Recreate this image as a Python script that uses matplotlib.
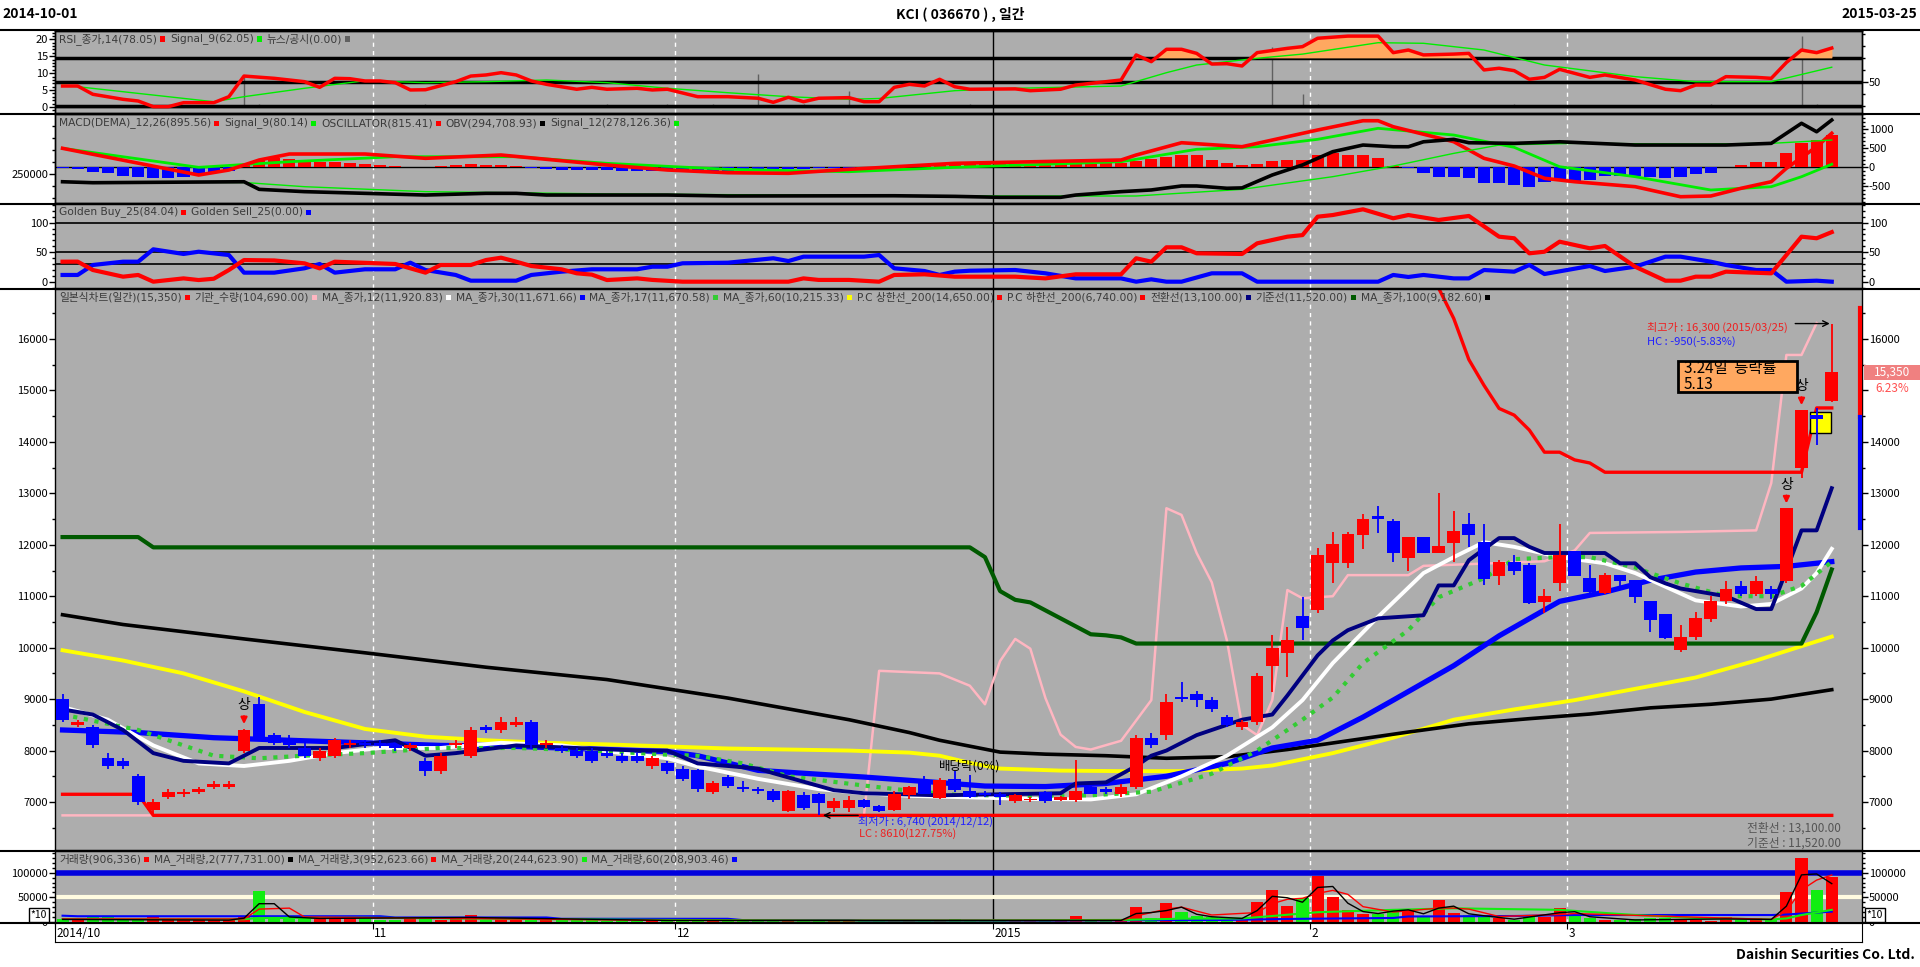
import matplotlib
matplotlib.use('Agg')
import matplotlib.pyplot as plt
import matplotlib.transforms as mtransforms
from matplotlib.patches import Rectangle
from matplotlib.lines import Line2D
from matplotlib.ticker import MultipleLocator, FixedLocator
import numpy as np

plt.rcParams['font.family'] = ['Noto Sans CJK KR', 'DejaVu Sans']
plt.rcParams['axes.unicode_minus'] = False

# ---------------- data ----------------
month_labels = ['2014/10', '11', '12', '2015', '2', '3']
month_start = [0, 21, 41, 62, 83, 100]

opens = [9000, 8500, 8450, 7850, 7800, 7500, 6850, 7100, 7150, 7200, 7300, 7300, 8000, 8900, 8300, 8250, 8050, 7850, 7900, 8100, 8150,
         8150, 8100, 8050, 7800, 7600, 8100, 7900, 8450, 8400, 8500, 8550, 8100, 8050, 8000, 8000, 7950, 7900, 7900, 7700, 7750,
         7650, 7620, 7190, 7480, 7270, 7240, 7210, 6820, 7130, 7150, 6880, 6880, 7030, 6920, 6850, 7130, 7420, 7080, 7450, 7210, 7180,
         7150, 7020, 7030, 7190, 7030, 7030, 7290, 7250, 7150, 7300, 8250, 8300, 9050, 9100, 8990, 8650, 8450, 8550, 9650, 9900, 10610,
         10730, 11650, 11650, 12190, 12560, 12460, 11750, 12150, 11840, 12040, 12400, 12060, 11400, 11660, 11600, 10890, 11250,
         11870, 11350, 11070, 11410, 11310, 10900, 10650, 9950, 10200, 10550, 10900, 11200, 11050, 11150, 11300, 13500, 14520, 14800]
highs = [9100, 8600, 8500, 7950, 7850, 7550, 7050, 7250, 7250, 7300, 7400, 7400, 8420, 9050, 8350, 8300, 8150, 8050, 8250, 8200, 8200,
         8200, 8150, 8150, 7850, 7950, 8200, 8450, 8500, 8650, 8650, 8600, 8200, 8100, 8050, 8050, 8000, 7950, 7950, 7900, 7800,
         7700, 7650, 7400, 7520, 7400, 7300, 7260, 7230, 7200, 7180, 7080, 7120, 7060, 6950, 7220, 7320, 7500, 7460, 7600, 7520, 7220,
         7200, 7150, 7100, 7220, 7120, 7810, 7320, 7300, 7350, 8300, 8350, 9100, 9330, 9150, 9050, 8700, 8600, 9500, 10250, 10400, 10990,
         11930, 12250, 12250, 12600, 12750, 12510, 12150, 12160, 13000, 12650, 12610, 12400, 11700, 11800, 11650, 11150, 12400,
         11880, 11600, 11450, 11420, 11320, 10910, 10660, 10450, 10700, 11000, 11300, 11300, 11400, 11200, 12710, 14620, 14660, 16300]
lows = [8550, 8450, 8050, 7650, 7650, 6950, 6740, 7050, 7100, 7150, 7250, 7250, 7950, 8200, 8100, 8050, 7850, 7800, 7850, 8050, 8050,
        8050, 8000, 8000, 7500, 7550, 8050, 7850, 8350, 8350, 8450, 8050, 8050, 7950, 7850, 7750, 7850, 7750, 7750, 7650, 7550,
        7400, 7200, 7150, 7280, 7200, 7150, 7000, 6800, 6850, 6740, 6800, 6800, 6880, 6800, 6820, 7050, 7150, 7050, 7200, 7080, 7100,
        6950, 6990, 7000, 6990, 7010, 7000, 7150, 7150, 7100, 7250, 8050, 8200, 8950, 8850, 8750, 8450, 8400, 8500, 9140, 9430, 10140,
        10670, 11260, 11550, 11920, 12220, 11670, 11500, 11840, 11840, 11670, 11960, 11210, 11210, 11410, 10850, 10670, 11100,
        11390, 11050, 11050, 11200, 10860, 10300, 10170, 9920, 10150, 10500, 10850, 11000, 11000, 10950, 11250, 13300, 13930, 14770]
closes = [8600, 8550, 8100, 7700, 7700, 7000, 7000, 7200, 7200, 7250, 7350, 7350, 8400, 8250, 8150, 8100, 7900, 8000, 8200, 8150, 8100,
          8100, 8050, 8100, 7600, 7900, 8150, 8400, 8400, 8550, 8550, 8100, 8150, 8000, 7900, 7800, 7900, 7800, 7800, 7850, 7600,
          7450, 7250, 7360, 7310, 7250, 7220, 7030, 7210, 6880, 6990, 7010, 7030, 6910, 6820, 7150, 7290, 7160, 7430, 7230, 7100, 7130,
          7100, 7130, 7040, 7010, 7100, 7210, 7160, 7200, 7300, 8250, 8100, 8950, 9000, 8990, 8800, 8500, 8550, 9440, 10000, 10150, 10390,
          11800, 12010, 12200, 12500, 12500, 11840, 12150, 11840, 11980, 12270, 12190, 11330, 11660, 11490, 10860, 11000, 11800,
          11400, 11090, 11410, 11290, 10990, 10530, 10180, 10200, 10570, 10900, 11150, 11050, 11300, 11050, 12710, 14620, 14450, 15350]
volume = [6300, 3600, 9000, 9000, 5600, 5600, 9000, 8400, 8400, 3600, 3600, 3600, 11700, 62600, 11700, 9000, 8400, 6300, 12000, 7000, 5600,
          4000, 3600, 5000, 6000, 4500, 5000, 13700, 3600, 9000, 3600, 8000, 3600, 4500, 3600, 3000, 2500, 3600, 3000, 3600, 3000,
          3000, 2500, 3000, 2500, 2000, 2000, 3000, 4000, 3000, 3500, 2500, 2500, 2000, 2000, 3500, 3000, 2500, 4000, 5000, 3000, 2000,
          2500, 2500, 2000, 2500, 2500, 11000, 3000, 2500, 3000, 30700, 8000, 38800, 20500, 11000, 10000, 6800, 6800, 40100, 64600, 33000, 48000,
          93000, 51000, 25000, 17000, 17000, 27000, 22000, 11000, 45000, 19000, 14000, 11000, 7000, 4000, 10000, 10000, 27400,
          14000, 7000, 4000, 3000, 5000, 7000, 7000, 4000, 3000, 1500, 10000, 4000, 7000, 3000, 61000, 130200, 64900, 90600]
upper_limit_days = [12, 114, 115]

# main panel lines (day index, price)
ma12_x = [0, 3, 6, 9, 12, 15, 18, 21, 25, 29, 33, 37, 40, 42, 46, 50, 53, 56, 60, 64, 68, 71, 74, 77, 80, 82, 84, 87, 90, 92, 94, 96, 99, 102, 104, 108, 111, 113, 115, 116, 117]
ma12_y = [8850, 8600, 8100, 7750, 7700, 7800, 7950, 8050, 8050, 8150, 8100, 7950, 7850, 7690, 7450, 7250, 7170, 7120, 7090, 7060, 7050, 7150, 7500, 7900, 8450, 8980, 9700, 10600, 11450, 11760, 12050, 11960, 11760, 11640, 11450, 10920, 10800, 10850, 11150, 11450, 11921]
ma17_x = [0, 5, 10, 13, 16, 20, 25, 30, 35, 40, 42, 45, 48, 53, 56, 59, 64, 68, 72, 76, 79, 82, 84, 86, 89, 91, 94, 96, 99, 101, 104, 105, 107, 110, 113, 115, 117]
ma17_y = [8700, 8400, 7900, 7850, 7900, 7950, 8050, 8050, 8000, 7920, 7900, 7750, 7500, 7320, 7220, 7140, 7120, 7130, 7200, 7550, 8000, 8600, 9030, 9700, 10340, 10980, 11350, 11720, 11760, 11760, 11560, 11450, 11250, 11000, 11000, 11200, 11670]
ma30_x = [0, 5, 10, 15, 20, 25, 30, 35, 40, 42, 46, 50, 53, 57, 61, 65, 69, 73, 77, 80, 83, 86, 88, 92, 95, 99, 102, 105, 108, 111, 114, 117]
ma30_y = [8400, 8350, 8250, 8200, 8150, 8100, 8080, 8030, 7980, 7900, 7615, 7540, 7485, 7400, 7310, 7300, 7360, 7500, 7750, 8050, 8200, 8650, 8980, 9650, 10230, 10900, 11080, 11310, 11470, 11550, 11580, 11672]
ma60_x = [0, 4, 8, 12, 16, 20, 24, 28, 32, 36, 40, 44, 48, 52, 56, 58, 60, 62, 66, 70, 74, 78, 80, 84, 88, 92, 96, 100, 104, 108, 112, 117]
ma60_y = [9950, 9750, 9500, 9150, 8750, 8420, 8270, 8200, 8150, 8120, 8080, 8040, 8020, 8000, 7960, 7900, 7760, 7650, 7610, 7600, 7600, 7650, 7710, 7950, 8250, 8600, 8800, 8980, 9200, 9420, 9750, 10215]
ma100_x = [0, 4, 12, 20, 28, 36, 44, 52, 56, 58, 62, 65, 69, 73, 77, 81, 85, 89, 93, 97, 101, 105, 109, 113, 117]
ma100_y = [10640, 10450, 10170, 9900, 9620, 9380, 9020, 8600, 8350, 8200, 7970, 7930, 7900, 7850, 7880, 8020, 8190, 8360, 8520, 8620, 8710, 8830, 8900, 9000, 9183]
kijun_x = [0, 5, 6, 60, 61, 62, 63, 64, 66, 68, 69, 70, 71, 115, 116, 117]
kijun_y = [12150, 12150, 11950, 11950, 11760, 11100, 10930, 10880, 10570, 10260, 10240, 10200, 10080, 10080, 10690, 11520]
tenkan_x = [0, 2, 4, 6, 8, 11, 12, 13, 18, 22, 24, 26, 30, 34, 38, 40, 42, 46, 47, 51, 53, 58, 66, 67, 69, 71, 72, 73, 75, 78, 80, 81, 83, 84, 85, 87, 90, 91, 92, 93, 95, 96, 97, 98, 102, 103, 104, 105, 106, 107, 110, 112, 113, 114, 115, 116, 117]
tenkan_y = [8800, 8700, 8400, 7950, 7800, 7750, 7900, 8050, 8050, 8200, 7900, 7950, 8100, 8050, 8000, 8000, 7750, 7650, 7560, 7230, 7170, 7130, 7170, 7360, 7380, 7700, 7900, 8000, 8300, 8600, 8700, 9070, 9850, 10140, 10340, 10570, 10630, 11210, 11210, 11700, 12130, 12130, 11960, 11840, 11840, 11640, 11640, 11370, 11250, 11150, 11000, 10750, 10750, 11500, 12280, 12280, 13100]
pc_up_x = [90, 91, 92, 93, 94, 95, 96, 97, 98, 99, 100, 101, 102, 115, 116, 117]
pc_up_y = [16990, 16990, 16400, 15600, 15100, 14650, 14520, 14230, 13800, 13800, 13650, 13590, 13410, 13410, 14660, 14660]
pc_dn_x = [0, 5, 6, 117]
pc_dn_y = [7150, 7150, 6740, 6740]
inst_x = [0, 53, 54, 58, 60, 61, 62, 63, 64, 65, 66, 67, 68, 70, 72, 73, 74, 75, 76, 77, 78, 79, 80, 81, 82, 84, 85, 89, 90, 98, 100, 101, 107, 112, 113, 114, 115, 116]
inst_y = [6740, 6740, 9550, 9500, 9260, 8900, 9740, 10170, 9980, 9020, 8310, 8070, 8020, 8190, 8980, 12710, 12580, 11840, 11270, 10140, 8500, 8300, 8980, 11120, 10960, 11000, 11410, 11410, 11590, 11680, 11890, 12230, 12250, 12280, 13200, 15690, 15690, 16310]

# RSI panel
rsi_x = [0, 1, 2, 4, 5, 6, 7, 8, 10, 11, 12, 14, 16, 17, 18, 19, 20, 21, 22, 23, 24, 26, 27, 28, 29, 30, 31, 32, 34, 35, 36, 38, 39, 40, 42, 44, 46, 47, 48, 49, 50, 52, 53, 54, 55, 56, 57, 58, 59, 60, 63, 64, 66, 67, 70, 71, 72, 73, 74, 75, 76, 77, 78, 79, 81, 82, 83, 85, 87, 88, 89, 90, 92, 93, 94, 95, 96, 97, 98, 99, 101, 102, 104, 106, 107, 108, 109, 110, 112, 113, 114, 115, 116, 117]
rsi_y = [46.4, 46.4, 39.5, 35.3, 33.9, 29.2, 29.2, 32.5, 32.5, 37.5, 54.7, 52.8, 50, 45.3, 52.8, 52.5, 50.6, 50.6, 49.2, 43.1, 43.3, 50, 54.7, 55.6, 57.5, 55.6, 50.6, 47.8, 43.7, 45.3, 43.7, 44.5, 43.1, 43.7, 37.5, 37.5, 36.2, 32.8, 37, 33.3, 36.2, 36.7, 33.3, 33.3, 45.3, 47.8, 46.4, 52, 45.8, 43.7, 44, 42.5, 43.7, 47.2, 51.4, 72.3, 66.7, 77, 77, 73.6, 64.7, 65, 63.1, 74.2, 77.8, 79.2, 86.2, 88, 88, 74.2, 76.4, 72.3, 73, 73.6, 59.8, 61.2, 59.2, 52, 53.6, 60.3, 53.6, 55.6, 51.4, 43.7, 42.5, 47.2, 47.2, 54.2, 53.6, 52.8, 66, 76.4, 74.2, 78.05]
rsi_sig_x = [0, 10, 12, 16, 20, 24, 28, 32, 36, 40, 44, 48, 52, 54, 59, 63, 70, 73, 75, 79, 82, 87, 90, 94, 98, 104, 108, 113, 117]
rsi_sig_y = [47.2, 33.3, 37.5, 44.5, 50.8, 49.2, 50, 51.4, 49.2, 44.5, 40.8, 37.5, 35.3, 36, 42.5, 44.5, 46.4, 57.5, 63.9, 69.5, 73, 82.5, 82, 76.4, 63.9, 54.2, 50, 50, 62.05]
news_x = [12, 13, 24, 36, 40, 43, 46, 49, 52, 60, 80, 82, 83, 96, 109, 115, 116]
news_y = [9.1, 0.9, 0.9, 0.9, 0.9, 0.9, 9.7, 0.9, 4.8, 0.9, 17.6, 3.7, 0.9, 0.9, 0.9, 20.9, 0.9]

# MACD panel
macd_x = [0, 9, 11, 13, 15, 20, 24, 29, 32, 36, 40, 44, 48, 52, 59, 70, 71, 74, 78, 80, 83, 86, 87, 88, 92, 94, 96, 98, 100, 104, 107, 109, 111, 113, 114, 116, 117]
macd_y = [500, -203, -71, 192, 350, 350, 237, 324, 211, 61, -71, -142, -158, -53, 105, 192, 324, 647, 542, 718, 982, 1226, 1226, 1068, 674, 237, 34, -289, -379, -510, -774, -755, -553, -379, -26, 542, 895.56]
macd_sig_x = [0, 9, 15, 22, 30, 36, 44, 52, 59, 70, 75, 79, 83, 87, 92, 96, 99, 104, 109, 113, 115, 117]
macd_sig_y = [500, 0, 147, 279, 279, 105, -53, -116, 0, 147, 474, 542, 737, 1026, 850, 526, 16, -247, -597, -510, -247, 80.14]
osc = [-30, -53, -114, -158, -228, -246, -289, -289, -246, -202, -158, -96,
       60, 193, 254, 210, 193, 149, 149, 105, 88, 61, 35, 20, 10, 30, 50, 80, 70, 50, 30,
       -20, -40, -60, -70, -80, -80, -90, -90, -90, -90, -100, -100, -90, -90, -80, -70, -60, -50, -40, -30, -20, -10,
       10, 20, 30, 40, 50, 60, 70, 80, 90, 100, 90, 80, 80, 90, 100, 100, 105, 120,
       175, 210, 281, 325, 316, 193, 123, 61, 88, 175, 193, 193, 325, 368, 325, 325, 237, 35, -20, -158,
       -246, -246, -289, -403, -403, -465, -509, -377, -333, -351, -333, -228, -228, -228, -263,
       -289, -246, -184, -140, 0, 61, 149, 149, 368, 631, 719, 851]
obv_x = [0, 2, 12, 13, 16, 24, 28, 30, 32, 40, 44, 55, 59, 62, 66, 67, 70, 72, 74, 75, 77, 78, 80, 82, 84, 86, 88, 89, 90, 92, 93, 96, 99, 104, 110, 113, 115, 116, 117]
obv_y = [243600, 242800, 243600, 237300, 235400, 232600, 234000, 234000, 232600, 232600, 231800, 232000, 231500, 230700, 230700, 232600, 235400, 236800, 240100, 240100, 238200, 238500, 249200, 257500, 268500, 274000, 272600, 272600, 276700, 278700, 275900, 275400, 276700, 274000, 274000, 275400, 292000, 285000, 294709]
obv_sig_x = [0, 12, 16, 24, 36, 59, 71, 78, 84, 88, 92, 95, 100, 108, 113, 117]
obv_sig_y = [243600, 243000, 239500, 235400, 233500, 231800, 231800, 237300, 247800, 256600, 267100, 274000, 275400, 274800, 275400, 278126]

# Golden panel
gbuy_x = [0, 1, 2, 4, 5, 6, 8, 9, 10, 11, 12, 14, 16, 17, 18, 21, 22, 24, 25, 27, 28, 29, 30, 31, 33, 34, 35, 36, 38, 39, 41, 48, 49, 50, 52, 54, 55, 57, 59, 63, 65, 67, 70, 71, 72, 73, 74, 75, 78, 79, 81, 82, 83, 84, 86, 88, 89, 91, 93, 95, 96, 97, 98, 99, 101, 102, 104, 106, 107, 108, 109, 110, 113, 115, 116, 117]
gbuy_y = [33.9, 34, 19.8, 8.5, 11.4, 0, 5.6, 2.8, 5, 19.8, 36.7, 36, 31.1, 22.6, 33.9, 31, 30, 15.3, 28.3, 28.3, 36.7, 40.7, 33.9, 26.6, 21, 14.2, 12, 2.8, 5.6, 3, 0, 0, 5.6, 3, 3, 0, 11.4, 12.5, 8.5, 8.5, 5.6, 12.5, 12.5, 39.7, 33.9, 58.3, 58.3, 48.1, 47, 65, 76.3, 79, 110.2, 113, 122.7, 107.5, 113, 104.6, 111.4, 76.3, 73.6, 48.1, 50.8, 67.8, 56.6, 60.5, 25.4, 1.7, 1.7, 8.5, 8.5, 17, 14.2, 76.3, 73.6, 84.04]
gsell_x = [0, 1, 2, 4, 5, 6, 8, 9, 11, 12, 14, 16, 17, 18, 20, 22, 23, 24, 26, 27, 30, 31, 33, 35, 38, 39, 40, 41, 44, 47, 48, 49, 53, 54, 55, 57, 58, 59, 60, 63, 65, 67, 70, 71, 72, 73, 74, 76, 78, 79, 87, 88, 89, 90, 92, 93, 94, 96, 97, 98, 101, 102, 104, 106, 107, 109, 110, 112, 113, 114, 116, 117]
gsell_y = [11.4, 11.4, 28.3, 33.9, 33.9, 54.9, 47, 50.8, 45.2, 15.3, 15.3, 22.7, 30, 15.3, 21, 21, 32.2, 19.8, 11.4, 1.7, 1.7, 11.4, 17, 21, 21, 25.4, 25.4, 31.2, 32.2, 39.7, 35, 42.4, 42.4, 45.2, 22.7, 18.1, 11.4, 17, 18.6, 19.8, 14.2, 5.6, 5.6, 0, 4, 0, 0, 14.2, 14.2, 0, 0, 11.4, 8, 11.4, 5.6, 5.6, 19.8, 17, 28.3, 13, 26.6, 18.1, 25.4, 42.4, 42.4, 33.9, 28.3, 19.8, 19.8, 0, 1.7, 0]

# volume moving averages
vma2_x = [0, 11, 12, 13, 14, 15, 17, 27, 28, 40, 70, 71, 72, 73, 74, 75, 76, 78, 79, 80, 81, 82, 83, 84, 85, 86, 87, 88, 89, 90, 91, 92, 93, 94, 96, 99, 100, 101, 104, 110, 113, 114, 115, 116, 117]
vma2_y = [5000, 3600, 7600, 37000, 37000, 10000, 7000, 9000, 8500, 3000, 3000, 17000, 19000, 23000, 30000, 15500, 10500, 7000, 23000, 52000, 49000, 40000, 70000, 72000, 38000, 21000, 17000, 22000, 24500, 16500, 28000, 32000, 16500, 12500, 5500, 18700, 20700, 10500, 4000, 6000, 5000, 32000, 95600, 97500, 77773]
vma3_x = [0, 12, 13, 15, 16, 40, 70, 71, 73, 74, 76, 79, 80, 81, 82, 83, 84, 85, 86, 88, 91, 92, 93, 95, 99, 100, 113, 114, 115, 116, 117]
vma3_y = [6000, 6000, 26000, 28000, 10000, 3000, 3000, 12000, 26000, 30000, 14000, 19000, 37000, 46000, 48000, 58000, 64000, 56000, 31000, 20000, 28000, 28000, 26000, 11000, 15000, 17000, 5000, 22000, 65000, 85000, 95262]
vma20_x = [0, 12, 13, 20, 30, 40, 50, 60, 70, 74, 78, 80, 83, 88, 92, 99, 104, 108, 113, 114, 115, 117]
vma20_y = [6000, 5500, 8000, 8500, 6000, 4000, 3000, 3000, 4000, 6500, 7000, 12000, 19700, 24500, 27600, 24500, 14000, 8000, 5000, 7000, 14000, 24462]
vma60_x = [0, 1, 21, 22, 32, 33, 44, 45, 52, 53, 66, 67, 77, 81, 88, 89, 96, 100, 113, 114, 117]
vma60_y = [12600, 11500, 11500, 9000, 9000, 6300, 6300, 3600, 3600, 2500, 2500, 3000, 4000, 6000, 8000, 11000, 12000, 14000, 14000, 15000, 20890]

# ---------------- layout ----------------
W, H = 1920, 967
fig = plt.figure(figsize=(W / 100, H / 100), dpi=100)
fig.patch.set_facecolor('white')
BG = '#adadad'
XL = (-0.5, 119.0)
n = len(closes)
idx = np.arange(n)
o, h, l, c = map(np.array, (opens, highs, lows, closes))
up = c >= o


def pbox(x0, y0, x1, y1):
    return [x0 / W, 1 - y1 / H, (x1 - x0) / W, (y1 - y0) / H]


def style(ax, bg=True):
    if bg:
        ax.set_facecolor(BG)
    ax.set_xlim(*XL)
    ax.set_xticks([])
    for s in ax.spines.values():
        s.set_color('black')
        s.set_linewidth(1)
    ax.tick_params(axis='y', which='major', labelsize=8, length=4, width=1, pad=1)
    ax.tick_params(axis='y', which='minor', length=2, width=1)


def month_lines(ax):
    for i, m in enumerate(month_start[1:], 1):
        if month_labels[i] == '2015':
            ax.axvline(m - 0.5, color='black', lw=1, zorder=0.5)
        else:
            ax.axvline(m - 0.5, color='white', lw=1, ls=(0, (3, 3)), zorder=0.5)


# RSI panel
ax_rsi = fig.add_axes(pbox(55, 31, 1862, 113))
style(ax_rsi)
ax_rsi.set_ylim(-1.77, 22.45)
ax_rsi.yaxis.set_major_locator(MultipleLocator(5))
ax_rsi.yaxis.set_minor_locator(MultipleLocator(1))
month_lines(ax_rsi)
ax_rsi.vlines(news_x, 0, news_y, color='#606060', lw=1, zorder=1)
ax_rsi.axhline(0, color='black', lw=1, zorder=1)
ax_rsi_r = ax_rsi.twinx()
style(ax_rsi_r, bg=False)
ax_rsi_r.set_ylim(23.9, 92.25)
ax_rsi_r.yaxis.set_major_locator(FixedLocator([50]))
ax_rsi_r.yaxis.set_minor_locator(MultipleLocator(10))
for lv in (70, 50, 30):
    ax_rsi_r.axhline(lv, color='black', lw=2.5, zorder=1)
ax_rsi_r.fill_between(rsi_x, rsi_y, 70, where=np.array(rsi_y) > 70, interpolate=True, color='#ffa860', zorder=2)
ax_rsi_r.plot(rsi_sig_x, rsi_sig_y, color='#00ee00', lw=1, zorder=3)
ax_rsi_r.plot(rsi_x, rsi_y, color='red', lw=2.5, zorder=4)

# MACD / OBV panel: oscillator and MACD on the right scale, OBV on the left
ax_m_r = fig.add_axes(pbox(55, 114, 1862, 203))
style(ax_m_r)
ax_m_r.yaxis.tick_right()
ax_m_r.set_ylim(-939, 1403)
ax_m_r.yaxis.set_major_locator(MultipleLocator(500))
ax_m_r.yaxis.set_minor_locator(MultipleLocator(100))
month_lines(ax_m_r)
ax_m_r.axhline(0, color='black', lw=1, zorder=1)
ax_m_r.bar(idx, osc, width=0.8, color=np.where(np.array(osc) >= 0, 'red', 'blue'), zorder=2)
ax_m_r.plot(macd_sig_x, macd_sig_y, color='#00ee00', lw=2, zorder=3)
ax_m_r.plot(macd_x, macd_y, color='red', lw=2.6, zorder=4)
ax_m = fig.add_axes(pbox(55, 114, 1862, 203))
style(ax_m, bg=False)
ax_m.patch.set_visible(False)
ax_m.set_ylim(226000, 299700)
ax_m.yaxis.set_major_locator(FixedLocator([250000]))
ax_m.yaxis.set_minor_locator(MultipleLocator(10000))
ax_m.plot(obv_sig_x, obv_sig_y, color='#00ee00', lw=1, zorder=3)
ax_m.plot(obv_x, obv_y, color='black', lw=2.6, zorder=3)

# Golden panel
ax_g = fig.add_axes(pbox(55, 204, 1862, 288))
style(ax_g)
ax_g.set_ylim(-10.7, 131.7)
ax_g.yaxis.set_major_locator(MultipleLocator(50))
ax_g.yaxis.set_minor_locator(MultipleLocator(10))
ax_g.tick_params(axis='y', which='both', left=True, right=True, labelleft=True, labelright=True)
month_lines(ax_g)
for lv in (100, 50, 30):
    ax_g.axhline(lv, color='black', lw=1.2, zorder=1)
ax_g.plot(gsell_x, gsell_y, color='blue', lw=3, zorder=3)
ax_g.plot(gbuy_x, gbuy_y, color='red', lw=3, zorder=3)

# main price panel
ax = fig.add_axes(pbox(55, 289, 1862, 850))
style(ax)
ax.set_ylim(6067, 16972)
ax.yaxis.set_major_locator(MultipleLocator(1000))
ax.yaxis.set_minor_locator(MultipleLocator(500))
ax.tick_params(axis='y', which='both', left=True, right=True, labelleft=True, labelright=True)
month_lines(ax)
ax.plot(inst_x, inst_y, color='#ffb6c1', lw=1.8, zorder=2)
ax.plot(ma60_x, ma60_y, color='yellow', lw=2.8, zorder=2)
ax.plot(ma100_x, ma100_y, color='black', lw=2.6, zorder=2)
ax.plot(kijun_x, kijun_y, color='#005a00', lw=3, zorder=2)
ax.plot(pc_dn_x, pc_dn_y, color='red', lw=2.4, zorder=2)
ax.plot(pc_up_x, pc_up_y, color='red', lw=2.4, zorder=2)
ax.plot(ma30_x, ma30_y, color='blue', lw=3.8, zorder=3)
ax.plot(ma12_x, ma12_y, color='white', lw=2.8, zorder=3)
ax.plot(ma17_x, ma17_y, color='#33cc33', lw=3, ls=(0, (1, 1.6)), zorder=3)
ax.plot(tenkan_x, tenkan_y, color='#000080', lw=2.8, zorder=3)

# yellow highlight box on 3/24
ax.add_patch(Rectangle((115.55, 14170), 1.4, 410, facecolor='yellow', edgecolor='black', lw=1, zorder=4))
cols = np.where(up, 'red', 'blue')
ax.vlines(idx, l, h, color=cols, lw=1.3, zorder=5)
body = np.maximum(np.abs(c - o), 35)
ax.bar(idx, body, bottom=np.minimum(o, c), width=0.84, color=cols, zorder=6)

for i in upper_limit_days:
    ax.text(i, highs[i] + 460, '상', ha='center', va='center', fontsize=10, color='black', zorder=7)
    ax.annotate('', xy=(i, highs[i] + 40), xytext=(i, highs[i] + 300),
                arrowprops=dict(arrowstyle='-|>', color='red', lw=1.6, mutation_scale=9), zorder=7)

ax.text(60, 7700, '배당락(0%)', ha='center', va='center', fontsize=9, color='black', zorder=7)
lo_i = n - 1 - int(np.argmin(l[::-1]))
ax.annotate('', xy=(lo_i + 0.1, l[lo_i]), xytext=(lo_i + 2.8, l[lo_i]),
            arrowprops=dict(arrowstyle='->', color='black', lw=1), zorder=7)
ax.text(lo_i + 2.6, l[lo_i] - 105, '최저가 : 6,740 (2014/12/12)', color='#2020ff', fontsize=8, ha='left', va='center', zorder=7)
ax.text(lo_i + 2.7, l[lo_i] - 350, 'LC : 8610(127.75%)', color='#ee2020', fontsize=8, ha='left', va='center', zorder=7)
hi_i = n - 1
ax.annotate('', xy=(hi_i + 0.05, h[hi_i]), xytext=(hi_i - 2.6, h[hi_i]),
            arrowprops=dict(arrowstyle='->', color='black', lw=1), zorder=7)
ax.text(104.8, 16230, '최고가 : 16,300 (2015/03/25)', color='#ee2020', fontsize=8, ha='left', va='center', zorder=7)
ax.text(104.8, 15960, 'HC : -950(-5.83%)', color='#2020ff', fontsize=8, ha='left', va='center', zorder=7)
ax.add_patch(Rectangle((106.8, 14975), 7.9, 600, facecolor='#ffa860', edgecolor='black', lw=2, zorder=7))
ax.text(107.2, 15420, '3.24일  등락률', fontsize=11, ha='left', va='center', color='black', zorder=8)
ax.text(107.2, 15120, '5.13', fontsize=11, ha='left', va='center', color='black', zorder=8)
ax.text(117.6, 6490, '전환선 : 13,100.00', fontsize=8.5, color='#555555', ha='right', va='center', zorder=7)
ax.text(117.6, 6205, '기준선 : 11,520.00', fontsize=8.5, color='#555555', ha='right', va='center', zorder=7)

# right-side price badge (covers the 15000 label on the right)
for t, loc in zip(ax.yaxis.get_major_ticks(), ax.yaxis.get_majorticklocs()):
    if abs(loc - 15000) < 1:
        t.label2.set_visible(False)
blend = mtransforms.blended_transform_factory(fig.transFigure, ax.transData)
ax.plot([1859.5 / W] * 2, [16600, 14480], transform=blend, color='red', lw=3, clip_on=False, zorder=9)
ax.plot([1859.5 / W] * 2, [14480, 12320], transform=blend, color='blue', lw=3, clip_on=False, zorder=9)
ax.add_patch(Rectangle((1864 / W, c[-1] - 140), 56 / W, 280, transform=blend, facecolor='#f08080',
                       edgecolor='none', clip_on=False, zorder=9))
ax.text(1892 / W, c[-1], '15,350', transform=blend, color='white', fontsize=8.5, ha='center', va='center', clip_on=False, zorder=10)
ax.text(1892 / W, c[-1] - 320, '6.23%', transform=blend, color='#ff5050', fontsize=8.5, ha='center', va='center',
        clip_on=False, zorder=10)

# volume panel
ax_v = fig.add_axes(pbox(55, 851, 1862, 923))
style(ax_v)
ax_v.set_ylim(-2236, 144100)
ax_v.yaxis.set_major_locator(MultipleLocator(50000))
ax_v.yaxis.set_minor_locator(MultipleLocator(10000))
ax_v.tick_params(axis='y', which='both', left=True, right=True, labelleft=True, labelright=True)
month_lines(ax_v)
ax_v.axhline(100000, color='#0000dd', lw=4, zorder=1)
ax_v.axhline(50000, color='#fffbe0', lw=3, zorder=1)
ax_v.bar(idx, volume, width=0.8, color=np.where(up, 'red', '#11ee11'), zorder=2)
ax_v.plot(vma60_x, vma60_y, color='blue', lw=1.5, zorder=3)
ax_v.plot(vma20_x, vma20_y, color='#11ee11', lw=1.5, zorder=3)
ax_v.plot(vma3_x, vma3_y, color='red', lw=1, zorder=3)
ax_v.plot(vma2_x, vma2_y, color='black', lw=1, zorder=3)

# date strip
ax_x = fig.add_axes(pbox(55, 923, 1862, 942))
ax_x.set_xlim(*XL)
ax_x.set_ylim(0, 1)
ax_x.set_yticks([])
ax_x.set_xticks([m - 0.5 for m in month_start])
ax_x.tick_params(axis='x', direction='in', length=4, top=True, bottom=False, labelbottom=False)
for s in ax_x.spines.values():
    s.set_color('black')
for lab, m in zip(month_labels, month_start):
    ax_x.text(m - 0.4, 0.45, lab, fontsize=8.5, ha='left', va='center')

# panel separators
for yy in (30, 113.5, 203.5, 288.5, 850.5, 923):
    fig.add_artist(Line2D([0, 1], [1 - yy / H] * 2, color='black', lw=1.5))

# header / footer
fig.text(2 / W, 1 - 14 / H, '2014-10-01', fontsize=10, ha='left', va='center', weight='bold')
fig.text(0.5, 1 - 14 / H, 'KCI ( 036670 ) , 일간', fontsize=10, ha='center', va='center', weight='bold')
fig.text(1917 / W, 1 - 14 / H, '2015-03-25', fontsize=10, ha='right', va='center', weight='bold')
fig.text(1915 / W, 1 - 955 / H, 'Daishin Securities Co. Ltd.', fontsize=10, ha='right', va='center', weight='bold')
fig.text(39 / W, 1 - 915 / H, '*10', fontsize=7.5, ha='center', va='center',
         bbox=dict(facecolor='white', edgecolor='black', pad=1.2, lw=1))
fig.text(1875 / W, 1 - 915 / H, '*10', fontsize=7.5, ha='center', va='center',
         bbox=dict(facecolor='white', edgecolor='black', pad=1.2, lw=1))

# legends
renderer = fig.canvas.get_renderer()
LEG_FONT = ['DejaVu Sans', 'Noto Sans CJK KR']


def legend_row(y_px, items, x_px=59):
    x = x_px
    for label, col in items:
        t = fig.text(x / W, 1 - y_px / H, label, fontsize=7.7, family=LEG_FONT, color='#3a3a3a',
                     ha='left', va='center', zorder=20)
        x += t.get_window_extent(renderer).width + 3
        fig.add_artist(Rectangle((x / W, 1 - (y_px + 2.5) / H), 5 / W, 5 / H, transform=fig.transFigure,
                                 facecolor=col, edgecolor='none', zorder=20))
        x += 10


legend_row(39, [('RSI_종가,14(78.05)', 'red'), ('Signal_9(62.05)', '#00ee00'), ('뉴스/공시(0.00)', '#606060')])
legend_row(123, [('MACD(DEMA)_12,26(895.56)', 'red'), ('Signal_9(80.14)', '#00ee00'), ('OSCILLATOR(815.41)', 'red'),
                 ('OBV(294,708.93)', 'black'), ('Signal_12(278,126.36)', '#00ee00')])
legend_row(212, [('Golden Buy_25(84.04)', 'red'), ('Golden Sell_25(0.00)', 'blue')])
legend_row(297, [('일본식차트(일간)(15,350)', 'red'), ('기관_수량(104,690.00)', '#ffb6c1'), ('MA_종가,12(11,920.83)', 'white'),
                 ('MA_종가,30(11,671.66)', 'blue'), ('MA_종가,17(11,670.58)', '#33cc33'), ('MA_종가,60(10,215.33)', 'yellow'),
                 ('P.C 상한선_200(14,650.00)', 'red'), ('P.C 하한선_200(6,740.00)', 'red'), ('전환선(13,100.00)', '#000080'),
                 ('기준선(11,520.00)', '#005a00'), ('MA_종가,100(9,182.60)', 'black')])
legend_row(859, [('거래량(906,336)', 'red'), ('MA_거래량,2(777,731.00)', 'black'), ('MA_거래량,3(952,623.66)', 'red'),
                 ('MA_거래량,20(244,623.90)', '#11ee11'), ('MA_거래량,60(208,903.46)', 'blue')])

fig.savefig('out.png', dpi=100, facecolor='white')
